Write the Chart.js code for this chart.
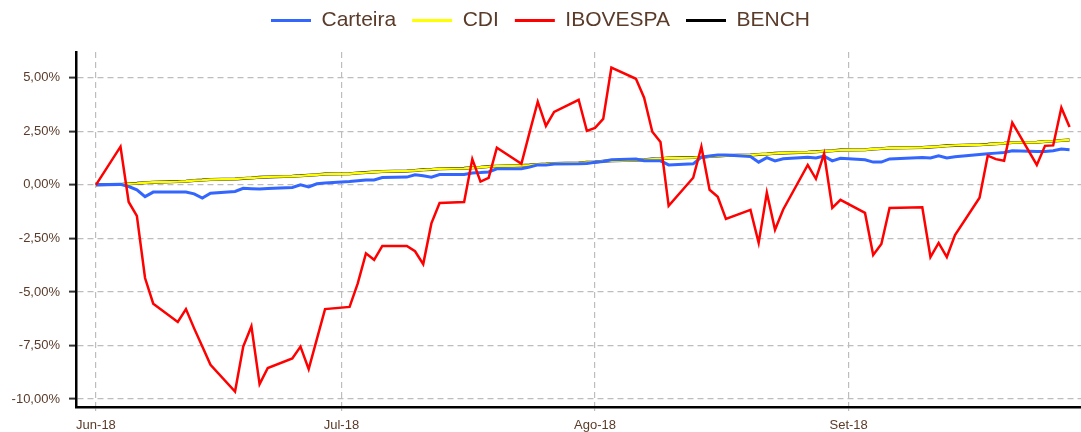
<!DOCTYPE html>
<html>
<head>
<meta charset="utf-8">
<script src="https://cdn.jsdelivr.net/npm/chart.js@4.4.0/dist/chart.umd.min.js"></script>
<style>
    html, body { margin: 0; padding: 0; background: #fff; }
    #wrap { width: 1081px; height: 432px; position: relative; }
</style>
</head>
<body>
<div id="wrap"><canvas id="perfChart"></canvas></div>
<script>
// trading days, Jun-Sep 2018
const dates = [
    "2018-06-01", "2018-06-04", "2018-06-05", "2018-06-06", "2018-06-07", "2018-06-08",
    "2018-06-11", "2018-06-12", "2018-06-13", "2018-06-14", "2018-06-15",
    "2018-06-18", "2018-06-19", "2018-06-20", "2018-06-21", "2018-06-22",
    "2018-06-25", "2018-06-26", "2018-06-27", "2018-06-28", "2018-06-29",
    "2018-07-02", "2018-07-03", "2018-07-04", "2018-07-05", "2018-07-06",
    "2018-07-09", "2018-07-10", "2018-07-11", "2018-07-12", "2018-07-13",
    "2018-07-16", "2018-07-17", "2018-07-18", "2018-07-19", "2018-07-20",
    "2018-07-23", "2018-07-24", "2018-07-25", "2018-07-26", "2018-07-27",
    "2018-07-30", "2018-07-31", "2018-08-01", "2018-08-02", "2018-08-03",
    "2018-08-06", "2018-08-07", "2018-08-08", "2018-08-09", "2018-08-10",
    "2018-08-13", "2018-08-14", "2018-08-15", "2018-08-16", "2018-08-17",
    "2018-08-20", "2018-08-21", "2018-08-22", "2018-08-23", "2018-08-24",
    "2018-08-27", "2018-08-28", "2018-08-29", "2018-08-30", "2018-08-31",
    "2018-09-03", "2018-09-04", "2018-09-05", "2018-09-06",
    "2018-09-10", "2018-09-11", "2018-09-12", "2018-09-13", "2018-09-14",
    "2018-09-17", "2018-09-18", "2018-09-19", "2018-09-20", "2018-09-21",
    "2018-09-24", "2018-09-25", "2018-09-26", "2018-09-27", "2018-09-28"
];

const carteira = [
    0, 0.03, -0.08, -0.23, -0.55, -0.34,
    -0.34, -0.34, -0.42, -0.62, -0.39,
    -0.31, -0.16, -0.18, -0.2, -0.17,
    -0.12, 0, -0.1, 0.05, 0.08,
    0.15, 0.19, 0.23, 0.23, 0.34,
    0.36, 0.47, 0.42, 0.36, 0.48,
    0.48, 0.55, 0.57, 0.6, 0.75,
    0.75, 0.83, 0.93, 0.92, 0.97,
    0.98, 1.0, 1.05, 1.09, 1.17,
    1.2, 1.12, 1.12, 1.12, 0.93,
    0.98, 1.29, 1.35, 1.39, 1.39,
    1.32, 1.06, 1.27, 1.12, 1.22,
    1.29, 1.25, 1.34, 1.12, 1.24,
    1.17, 1.06, 1.06, 1.21,
    1.27, 1.25, 1.36, 1.25, 1.31,
    1.42, 1.45, 1.48, 1.51, 1.59,
    1.56, 1.56, 1.59, 1.67, 1.64
];

const cdi = [
    0, 0.02, 0.05, 0.07, 0.10, 0.12,
    0.15, 0.17, 0.20, 0.22, 0.25,
    0.27, 0.30, 0.32, 0.35, 0.37,
    0.40, 0.42, 0.45, 0.47, 0.50,
    0.52, 0.55, 0.57, 0.60, 0.62,
    0.65, 0.67, 0.70, 0.72, 0.75,
    0.77, 0.80, 0.82, 0.85, 0.87,
    0.90, 0.92, 0.95, 0.97, 1.00,
    1.02, 1.05, 1.07, 1.10, 1.12,
    1.15, 1.17, 1.20, 1.22, 1.25,
    1.27, 1.29, 1.32, 1.34, 1.37,
    1.39, 1.42, 1.44, 1.47, 1.49,
    1.52, 1.54, 1.57, 1.59, 1.62,
    1.64, 1.67, 1.69, 1.72,
    1.74, 1.77, 1.79, 1.82, 1.84,
    1.87, 1.89, 1.92, 1.94, 1.97,
    1.99, 2.02, 2.04, 2.07, 2.09
];

const ibovespa = [
    0, 1.78, -0.8, -1.45, -4.35, -5.55,
    -6.4, -5.8, -6.7, -7.55, -8.4,
    -9.65, -7.55, -6.6, -9.3, -8.55,
    -8.1, -7.55, -8.6, -7.2, -5.8,
    -5.7, -4.6, -3.2, -3.5, -2.85,
    -2.85, -3.1, -3.7, -1.8, -0.85,
    -0.8, 1.2, 0.15, 0.33, 1.73,
    0.98, 2.45, 3.88, 2.75, 3.4,
    3.97, 2.52, 2.66, 3.08, 5.47,
    4.95, 4.07, 2.48, 2.0, -0.98,
    0.33, 1.78, -0.23, -0.56, -1.59,
    -1.17, -2.71, -0.37, -2.1, -1.15,
    0.93, 0.28, 1.45, -1.08, -0.7,
    -1.31, -3.27, -2.76, -1.08,
    -1.05, -3.37, -2.71, -3.37, -2.34,
    -0.6, 1.36, 1.2, 1.12, 2.9,
    0.93, 1.82, 1.84, 3.6, 2.7
];

// benchmark sits right under the CDI line
const bench = cdi.slice();

const tickDates = ["2018-06-01", "2018-07-01", "2018-08-01", "2018-09-01"];
const tickLabels = ["Jun-18", "Jul-18", "Ago-18", "Set-18"];
const yTicks = [5, 2.5, 0, -2.5, -5, -7.5, -10];

const textColor = "#5a3b2a";
const gridColor = "#bdbdbd";
const fontFamily = "'Liberation Sans', Arial, sans-serif";

function dayNum(s) {
    const p = s.split("-");
    return (Date.UTC(+p[0], p[1] - 1, +p[2]) - Date.UTC(2018, 5, 1)) / 86400000;
}

function toPoints(values) {
    return values.map((v, i) => ({ x: dayNum(dates[i]), y: v }));
}

function fmtPct(v) {
    return v.toFixed(2).replace(".", ",") + "%";
}

const tickDays = tickDates.map(dayNum);

const legendGap = {
    id: "legendGap",
    beforeInit(chart) {
        const fit = chart.legend.fit;
        chart.legend.fit = function () {
            fit.bind(chart.legend)();
            this.height += 11;
        };
    }
};

new Chart(document.getElementById("perfChart"), {
    type: "line",
    data: {
        datasets: [
            { label: "Carteira", data: toPoints(carteira), borderColor: "#3366ff", backgroundColor: "#3366ff", borderWidth: 3, order: 1 },
            { label: "CDI", data: toPoints(cdi), borderColor: "#ffff00", backgroundColor: "#ffff00", borderWidth: 2.4, order: 2 },
            { label: "IBOVESPA", data: toPoints(ibovespa), borderColor: "#ff0000", backgroundColor: "#ff0000", borderWidth: 2.5, order: 0 },
            { label: "BENCH", data: toPoints(bench), borderColor: "#000000", backgroundColor: "#000000", borderWidth: 3, order: 3 }
        ]
    },
    options: {
        responsive: true,
        maintainAspectRatio: false,
        animation: false,
        layout: { padding: { top: -6, left: 0, right: 0, bottom: 0 } },
        elements: {
            point: { radius: 0 },
            line: { tension: 0 }
        },
        plugins: {
            tooltip: { enabled: false },
            legend: {
                position: "top",
                labels: {
                    font: { family: fontFamily, size: 21 },
                    color: textColor,
                    boxWidth: 40,
                    boxHeight: 3,
                    padding: 16,
                    generateLabels(chart) {
                        return chart.data.datasets.map((ds, i) => ({
                            text: ds.label,
                            fillStyle: ds.borderColor,
                            strokeStyle: ds.borderColor,
                            lineWidth: 0,
                            fontColor: textColor,
                            datasetIndex: i,
                            hidden: false
                        }));
                    }
                }
            }
        },
        scales: {
            x: {
                type: "linear",
                min: -2.44,
                max: 120.4,
                afterFit(scale) { scale.height = 25; },
                afterBuildTicks(scale) {
                    scale.ticks = tickDays.map(v => ({ value: v }));
                },
                ticks: {
                    autoSkip: false,
                    maxRotation: 0,
                    padding: 7,
                    color: textColor,
                    font: { family: fontFamily, size: 13 },
                    callback(value) {
                        const i = tickDays.indexOf(value);
                        return i >= 0 ? tickLabels[i] : "";
                    }
                },
                grid: {
                    color: gridColor,
                    lineWidth: 1.2,
                    borderDash: [6, 4],
                    tickLength: 4,
                    tickColor: gridColor
                },
                border: { display: true, color: "#000", width: 2.5, dash: [6, 4] }
            },
            y: {
                min: -10.37,
                max: 6.2,
                afterFit(scale) { scale.width = 76; },
                afterBuildTicks(scale) {
                    scale.ticks = yTicks.map(v => ({ value: v }));
                },
                ticks: {
                    padding: 9,
                    color: textColor,
                    font: { family: fontFamily, size: 13 },
                    callback: v => fmtPct(v)
                },
                grid: {
                    color: gridColor,
                    lineWidth: 1.2,
                    borderDash: [6, 4],
                    tickLength: 7,
                    tickWidth: 2,
                    tickColor: "#333"
                },
                border: { display: true, color: "#000", width: 2.5, dash: [6, 4] }
            }
        }
    },
    plugins: [legendGap]
});
</script>
</body>
</html>
